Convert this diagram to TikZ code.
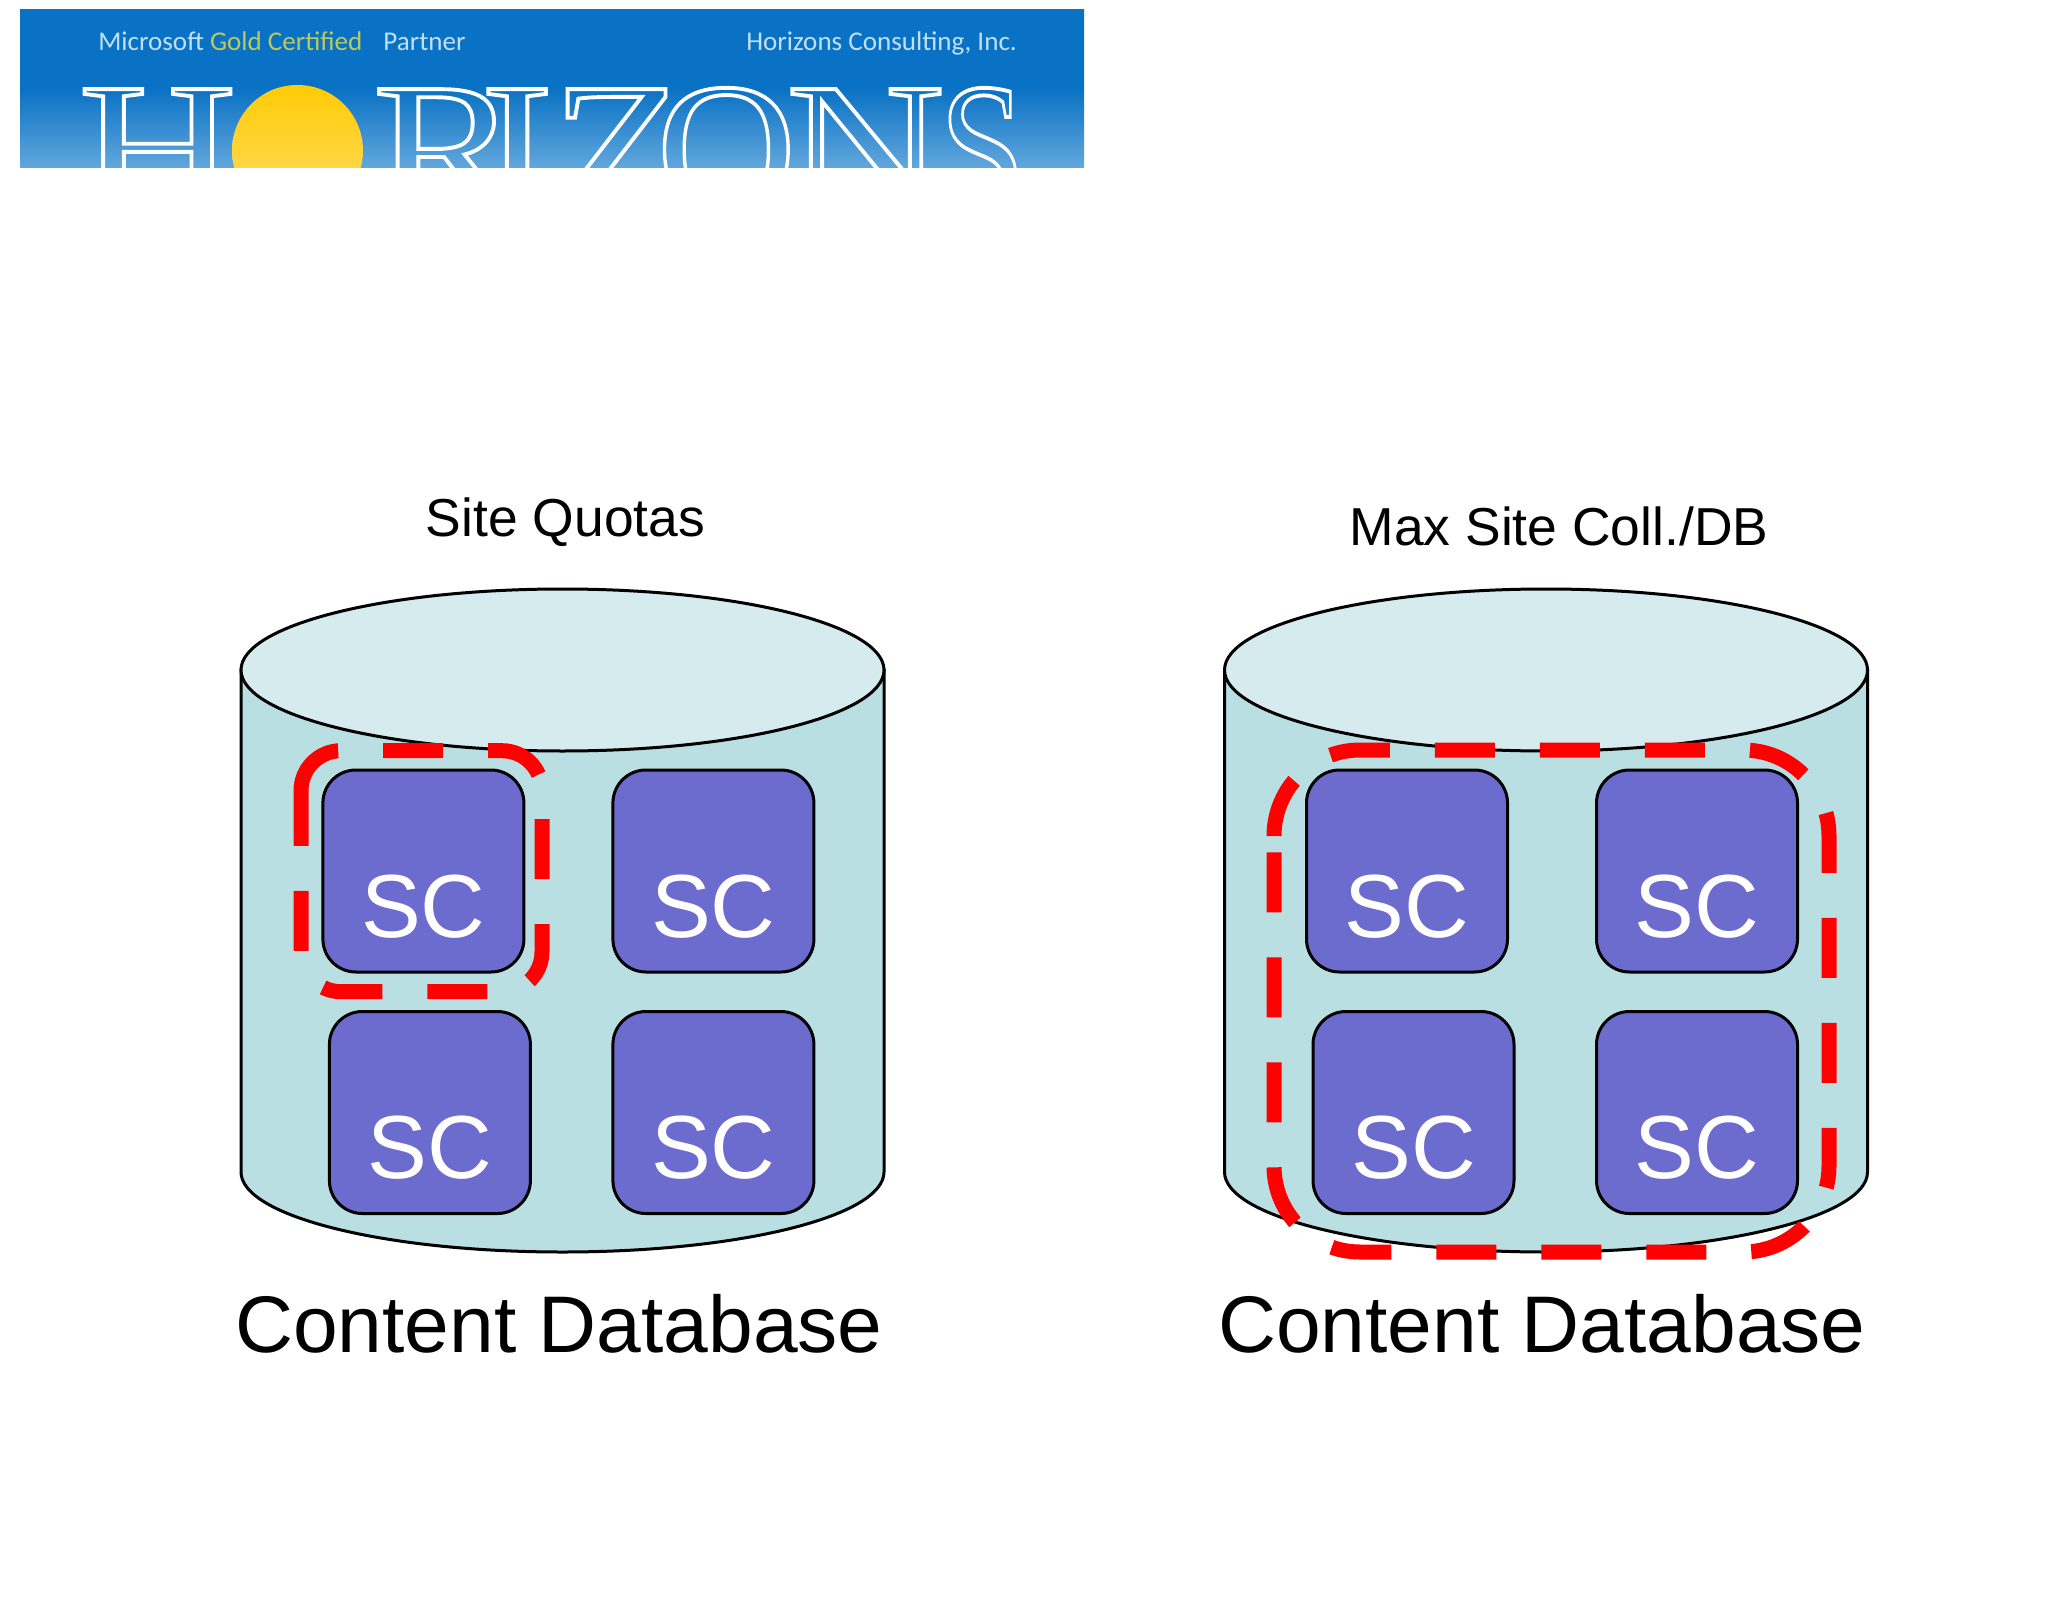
\documentclass[tikz,border=0pt]{standalone}
\usepackage{fontspec}
\setmainfont{Liberation Sans}
\newfontfamily\logofont[FakeStretch=1.19]{Liberation Serif}
\newfontfamily\smalllogofont{Carlito}
\definecolor{bodyblue}{HTML}{B9DFE3}
\definecolor{topblue}{HTML}{D6EBEE}
\definecolor{scblue}{HTML}{6C6BCE}
\definecolor{bannerblue}{HTML}{0A72C4}
\definecolor{bannerlight}{HTML}{62A7DC}
\definecolor{logogold}{HTML}{B9C95E}
\definecolor{logotext}{HTML}{BFE0F5}
\definecolor{suntop}{HTML}{FFCB05}
\definecolor{sunlow}{HTML}{FFDC6A}
\pgfdeclareverticalshading{bannershade}{100bp}{color(0bp)=(bannerlight); color(25bp)=(bannerlight); color(50bp)=(bannerblue); color(100bp)=(bannerblue)}
\newcommand{\outlined}[1]{\special{pdf:code 1 Tr 2.2 w 1 1 1 RG}#1\special{pdf:code 0 Tr}}
\tikzset{
  cylbody/.style={draw,line width=0.6mm,fill=bodyblue},
  cyltop/.style={draw,line width=0.6mm,fill=topblue},
  scbox/.style={rectangle,draw,line width=0.6mm,fill=scblue,rounded corners=6.6mm,
    minimum width=40.2mm,inner sep=0pt,text height=33.4mm,text depth=7mm,
    text=white,font=\fontsize{51}{51}\selectfont},
  quota/.style={draw=red,line width=3mm,dash pattern=on 12mm off 9mm},
  title/.style={anchor=base,inner sep=0pt,font=\fontsize{30.4}{31}\selectfont},
  dbname/.style={anchor=base,inner sep=0pt,font=\fontsize{45.7}{46}\selectfont},
  smalllogo/.style={anchor=base west,inner sep=0pt,text=logotext,
    font=\smalllogofont\fontsize{15.4}{16}\selectfont},
}
\begin{document}
\begin{tikzpicture}[x=0.2mm,y=-0.2mm]
  \path[use as bounding box] (0,0) rectangle (2048,1622);

  % banner
  \begin{scope}
    \clip (20,10) rectangle (1084,168);
    \shade[shading=bannershade] (20,10) rectangle (1084,168);
    \node[anchor=base west,inner sep=0pt,text=white,font=\logofont\fontsize{105}{105}\selectfont] (logo) at (78,210)
      {\outlined{H\scalebox{.75}[1]{O}\hspace{3.4mm}R\hspace{-7.8mm}I\hspace{-.6mm}Z\hspace{-5.6mm}\scalebox{.88}[1]{O}\hspace{-2mm}N\hspace{-1mm}\scalebox{.7}[1]{S}}};
    \shade[top color=suntop,bottom color=sunlow] (297.5,150.5) circle (65.5);
  \end{scope}
  \node[smalllogo] (partner) at (98,51) {Microsoft \textcolor{logogold}{Gold Certified}\hspace{3mm} Partner};
  \node[smalllogo] (company) at (746,51) {Horizons Consulting, Inc.};

  % left database
  \draw[cylbody] (241,670) -- (241,1172) arc[start angle=180,end angle=0,x radius=321.5,y radius=80] -- (884,670) -- cycle;
  \draw[cyltop] (562.5,670) ellipse[x radius=321.5,y radius=81];
  \node[scbox] (sca) at (423.4,871) {SC};
  \node[scbox,node distance=58mm] (scb) [right of=sca] {SC};
  \node[scbox,node distance=48.3mm,xshift=1.3mm] (scc) [below of=sca] {SC};
  \node[scbox,node distance=48.3mm] (scd) [below of=scb] {SC};
  \draw[quota,rounded corners=8mm] (301,790.7) -- (301,750.7) -- (542,750.7) -- (542,991.7) -- (301,991.7) -- (301,790.7);
  \node[title] (quotas) at (565.5,536) {Site Quotas};
  \node[dbname] (dbleft) at (559,1352) {Content Database};

  % right database
  \draw[cylbody] (1224.5,670) -- (1224.5,1172) arc[start angle=180,end angle=0,x radius=321.5,y radius=80] -- (1867.5,670) -- cycle;
  \draw[cyltop] (1546,670) ellipse[x radius=321.5,y radius=81];
  \node[scbox] (sce) at (1407,871) {SC};
  \node[scbox,node distance=58mm] (scf) [right of=sce] {SC};
  \node[scbox,node distance=48.3mm,xshift=1.3mm] (scg) [below of=sce] {SC};
  \node[scbox,node distance=48.3mm] (sch) [below of=scf] {SC};
  \draw[quota,rounded corners=17.2mm] (1274,836) -- (1274,750) -- (1829,750) -- (1829,1252) -- (1274,1252) -- (1274,836);
  \node[title] (maxcoll) at (1559,545) {Max Site Coll./DB};
  \node[dbname] (dbright) at (1542,1352) {Content Database};
\end{tikzpicture}
\end{document}
